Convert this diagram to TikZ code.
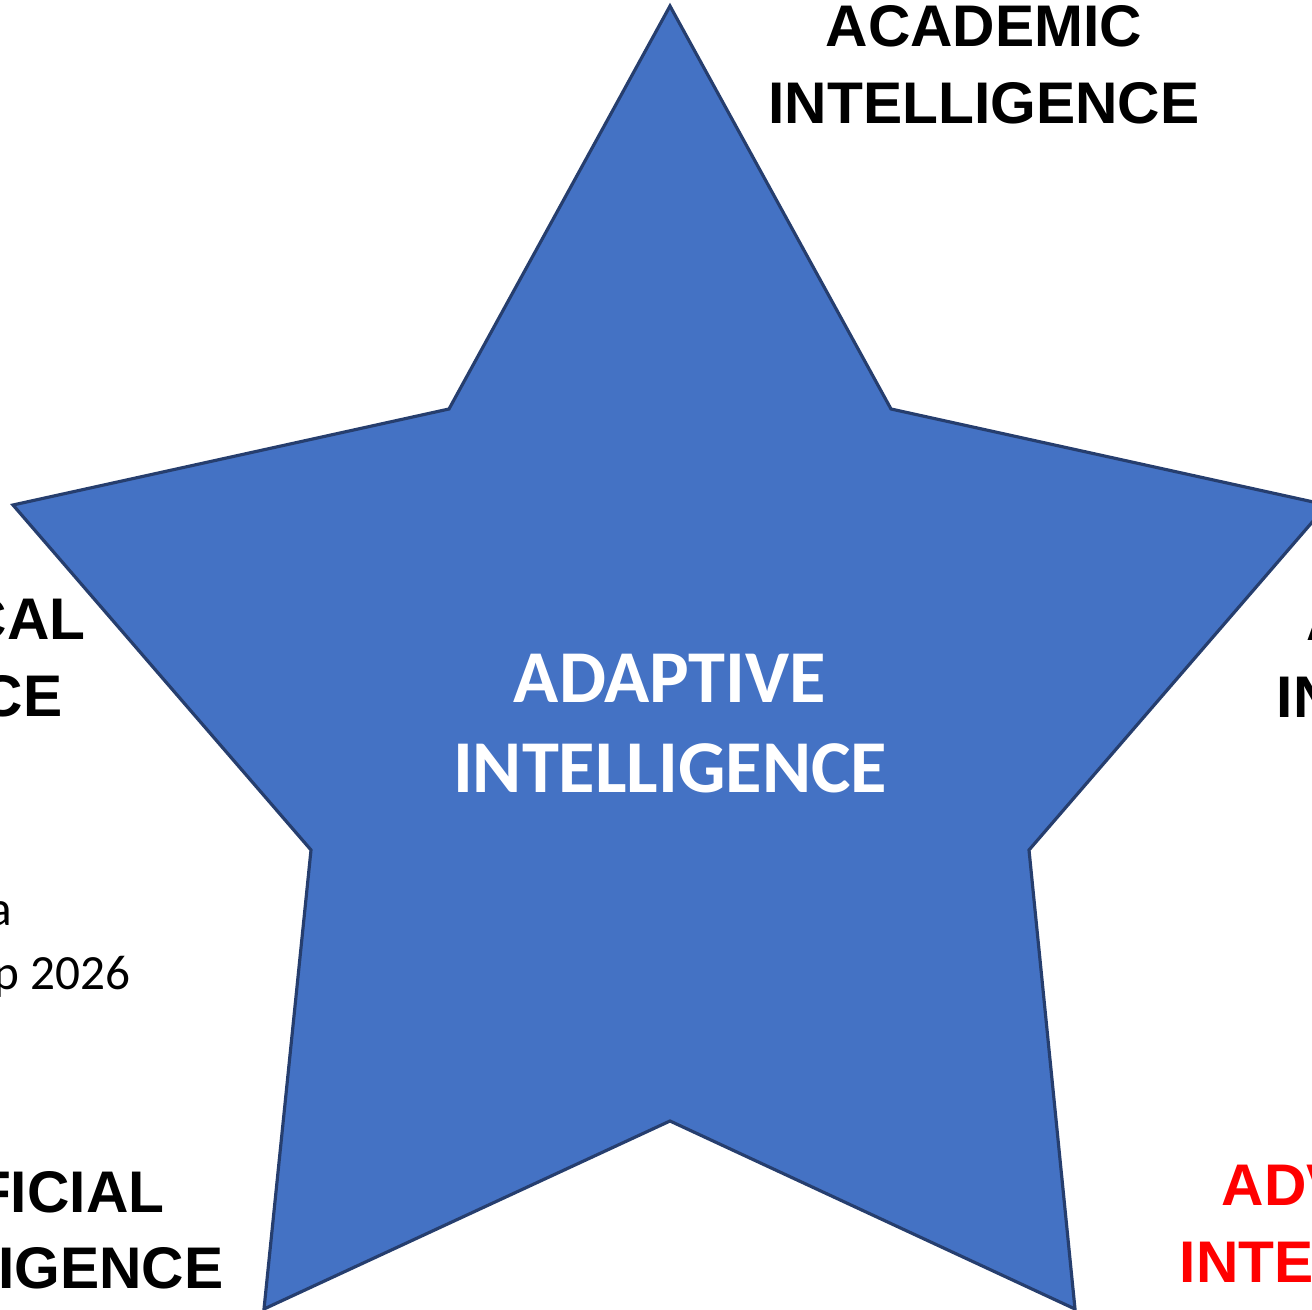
\documentclass[tikz,border=0pt]{standalone}
\usepackage{fontspec}
\usepackage{tikz}
\usetikzlibrary{positioning}
\usepackage{xcolor}
\newfontfamily\labelfont{Liberation Sans}
\newfontfamily\starfont{Carlito}
\definecolor{stblue}{RGB}{68,114,196}
\definecolor{stedge}{RGB}{38,62,110}
\definecolor{stred}{RGB}{255,0,0}
\tikzstyle{starshape} = [fill=stblue, draw=stedge, line width=0.9pt, line join=miter]
\tikzstyle{biglabel} = [inner sep=0pt, font=\labelfont\bfseries\fontsize{16.7}{21.9}\selectfont]
\tikzstyle{startext} = [inner sep=0pt, text=white, align=center, font=\starfont\bfseries\fontsize{21.2}{25.6}\selectfont]
\tikzstyle{notetext} = [inner sep=0pt, font=\starfont\fontsize{14}{18.8}\selectfont]

\begin{document}
\begin{tikzpicture}[x=0.01cm, y=-0.01cm]
\useasboundingbox (0,0) rectangle (1312,1310);
\clip (0,0) rectangle (1312,1310);

% Star
\draw[starshape] (670,6) -- (891,409) -- (1327,505) -- (1029,850) -- (1075,1309)
  -- (670,1121) -- (264,1309) -- (311,850) -- (13,505) -- (449,409) -- cycle;

% Centre
\node[startext, anchor=north] (adaptive) at (670,653) {ADAPTIVE\\INTELLIGENCE};

% Top
\node[biglabel, anchor=north, align=center] (academic) at (984,5) {ACADEMIC\\INTELLIGENCE};

% Left side (cut by the frame)
\node[biglabel, anchor=base east] (leftA) at (86,640) {CAL};
\node[biglabel, anchor=base east] (leftB) at (63,717) {CE};
\node[notetext, anchor=base east] (noteA) at (13,926) {a};
\node[notetext, anchor=base east] (noteB) at (131,990) {p 2026};
\node[biglabel, anchor=base east] (lowleftA) at (165,1212) {FICIAL};
\node[biglabel, anchor=base east] (lowleftB) at (224,1288) {IGENCE};

% Right side (cut by the frame)
\node[biglabel, anchor=base west] (rightA) at (1306,641) {A};
\node[biglabel, anchor=base west] (rightB) at (1276,718) {IN};
\node[biglabel, anchor=base west, text=stred] (lowrightA) at (1221,1205) {ADV};
\node[biglabel, anchor=base west, text=stred] (lowrightB) at (1179,1282) {INTE};
\end{tikzpicture}
\end{document}
